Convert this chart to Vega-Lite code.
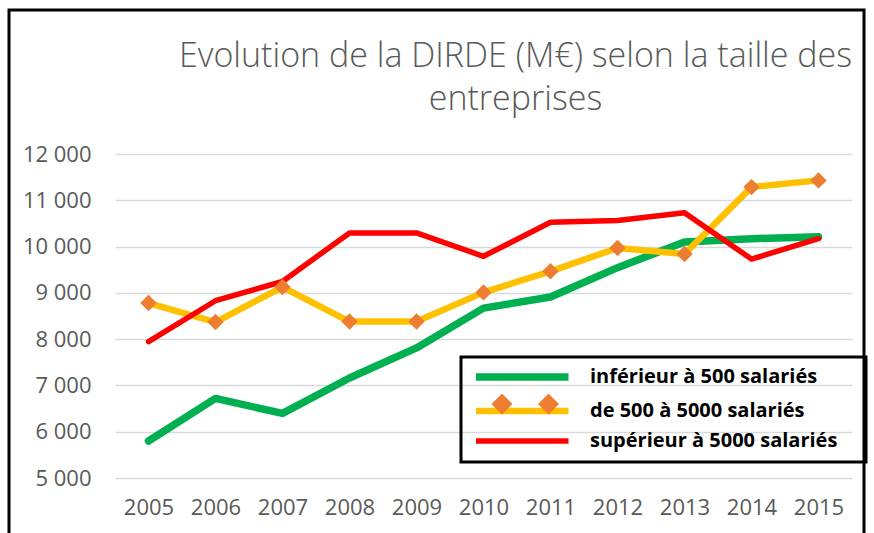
{
  "$schema": "https://vega.github.io/schema/vega-lite/v6.json",
  "width": 737,
  "height": 324,
  "autosize": {"type": "none"},
  "padding": {"left": 115, "top": 154, "right": 22, "bottom": 55},
  "background": "white",
  "config": {"view": {"stroke": null}, "legend": {"strokeWidth": 3}},
  "title": {
    "text": ["Evolution de la DIRDE (M€) selon la taille des", "entreprises"],
    "font": "Open Sans",
    "fontSize": 34,
    "fontWeight": 300,
    "color": "#595959",
    "anchor": "middle",
    "dx": 32,
    "lineHeight": 43,
    "offset": -108
  },
  "data": {
    "values": [
      {"year": "2005", "series": "inférieur à 500 salariés", "value": 5800},
      {"year": "2006", "series": "inférieur à 500 salariés", "value": 6720},
      {"year": "2007", "series": "inférieur à 500 salariés", "value": 6395},
      {"year": "2008", "series": "inférieur à 500 salariés", "value": 7160},
      {"year": "2009", "series": "inférieur à 500 salariés", "value": 7810},
      {"year": "2010", "series": "inférieur à 500 salariés", "value": 8670},
      {"year": "2011", "series": "inférieur à 500 salariés", "value": 8910},
      {"year": "2012", "series": "inférieur à 500 salariés", "value": 9545},
      {"year": "2013", "series": "inférieur à 500 salariés", "value": 10100},
      {"year": "2014", "series": "inférieur à 500 salariés", "value": 10170},
      {"year": "2015", "series": "inférieur à 500 salariés", "value": 10210},
      {"year": "2005", "series": "de 500 à 5000 salariés", "value": 8780},
      {"year": "2006", "series": "de 500 à 5000 salariés", "value": 8370},
      {"year": "2007", "series": "de 500 à 5000 salariés", "value": 9125},
      {"year": "2008", "series": "de 500 à 5000 salariés", "value": 8380},
      {"year": "2009", "series": "de 500 à 5000 salariés", "value": 8380},
      {"year": "2010", "series": "de 500 à 5000 salariés", "value": 9010},
      {"year": "2011", "series": "de 500 à 5000 salariés", "value": 9465},
      {"year": "2012", "series": "de 500 à 5000 salariés", "value": 9970},
      {"year": "2013", "series": "de 500 à 5000 salariés", "value": 9840},
      {"year": "2014", "series": "de 500 à 5000 salariés", "value": 11285},
      {"year": "2015", "series": "de 500 à 5000 salariés", "value": 11430},
      {"year": "2005", "series": "supérieur à 5000 salariés", "value": 7945},
      {"year": "2006", "series": "supérieur à 5000 salariés", "value": 8830},
      {"year": "2007", "series": "supérieur à 5000 salariés", "value": 9245},
      {"year": "2008", "series": "supérieur à 5000 salariés", "value": 10295},
      {"year": "2009", "series": "supérieur à 5000 salariés", "value": 10295},
      {"year": "2010", "series": "supérieur à 5000 salariés", "value": 9790},
      {"year": "2011", "series": "supérieur à 5000 salariés", "value": 10525},
      {"year": "2012", "series": "supérieur à 5000 salariés", "value": 10565},
      {"year": "2013", "series": "supérieur à 5000 salariés", "value": 10730},
      {"year": "2014", "series": "supérieur à 5000 salariés", "value": 9730},
      {"year": "2015", "series": "supérieur à 5000 salariés", "value": 10170}
    ]
  },
  "encoding": {
    "x": {
      "field": "year",
      "type": "ordinal",
      "scale": {"type": "point", "padding": 0.5},
      "axis": {
        "title": null,
        "labelAngle": 0,
        "ticks": false,
        "domain": false,
        "grid": false,
        "labelFont": "Open Sans",
        "labelFontSize": 22,
        "labelColor": "#595959",
        "labelPadding": 19
      }
    },
    "y": {
      "field": "value",
      "type": "quantitative",
      "scale": {"domain": [5000, 12000], "nice": false, "zero": false},
      "axis": {
        "title": null,
        "values": [5000, 6000, 7000, 8000, 9000, 10000, 11000, 12000],
        "ticks": false,
        "domain": false,
        "grid": true,
        "gridColor": "#D9D9D9",
        "gridWidth": 1.5,
        "labelFont": "Open Sans",
        "labelFontSize": 22,
        "labelColor": "#595959",
        "labelPadding": 24,
        "labelExpr": "replace(format(datum.value, ','), ',', ' ')"
      }
    }
  },
  "layer": [
    {
      "mark": {"type": "line", "strokeCap": "round", "strokeJoin": "round"},
      "encoding": {
        "color": {
          "field": "series",
          "type": "nominal",
          "sort": null,
          "scale": {
            "domain": ["inférieur à 500 salariés", "de 500 à 5000 salariés", "supérieur à 5000 salariés"],
            "range": ["#00B050", "#FFC000", "#FF0000"]
          },
          "legend": {
            "orient": "none",
            "legendX": 346,
            "legendY": 203,
            "title": "\u00a0",
            "titleOrient": "right",
            "titlePadding": 19,
            "titleFontSize": 12,
            "titleColor": "transparent",
            "symbolType": "M-1,0H17.5",
            "symbolSize": 100,
            "symbolStrokeWidth": 7,
            "labelFont": "Open Sans",
            "labelFontSize": 20,
            "labelFontWeight": "bold",
            "labelColor": "#000000",
            "labelOffset": 99,
            "labelLimit": 400,
            "rowPadding": 6,
            "padding": 10,
            "strokeColor": "#000000"
          }
        },
        "strokeWidth": {
          "field": "series",
          "type": "nominal",
          "scale": {
            "domain": ["inférieur à 500 salariés", "de 500 à 5000 salariés", "supérieur à 5000 salariés"],
            "range": [7.5, 5.5, 6]
          },
          "legend": null
        }
      }
    },
    {
      "transform": [{"filter": "datum.series === 'de 500 à 5000 salariés'"}],
      "mark": {"type": "point", "shape": "diamond", "filled": true, "color": "#ED7D31", "size": 270, "opacity": 1}
    },
    {
      "transform": [{"calculate": "'_' + datum.series", "as": "legendSeries"}],
      "mark": {"type": "point", "filled": true, "color": "#ED7D31", "opacity": 0},
      "encoding": {
        "shape": {
          "field": "legendSeries",
          "type": "nominal",
          "scale": {
            "domain": ["_inférieur à 500 salariés", "_de 500 à 5000 salariés", "_supérieur à 5000 salariés"],
            "range": ["M0,0", "M2.1,0L4.2,-2.1L6.3,0L4.2,2.1Z M11.4,0L13.5,-2.1L15.6,0L13.5,2.1Z", "M0,0"]
          },
          "legend": {
            "orient": "none",
            "legendX": 346,
            "legendY": 203,
            "title": null,
            "symbolSize": 100,
            "symbolFillColor": "#ED7D31",
            "symbolStrokeWidth": 0,
            "symbolOpacity": 1,
            "labelFont": "Open Sans",
            "labelFontSize": 20,
            "labelFontWeight": "bold",
            "labelExpr": "''",
            "labelOffset": 99,
            "rowPadding": 6,
            "padding": 10,
            "zindex": 1
          }
        }
      }
    },
    {
      "mark": {"type": "point", "opacity": 0},
      "encoding": {
        "fill": {
          "field": "value",
          "type": "quantitative",
          "scale": {"range": ["rgba(0,0,0,0)", "rgba(0,0,0,0)"]},
          "legend": {
            "orient": "none",
            "direction": "vertical",
            "legendX": -106,
            "legendY": -144,
            "title": null,
            "gradientLength": 545,
            "gradientThickness": 855,
            "gradientStrokeWidth": 0,
            "labelExpr": "''",
            "labelOffset": 0,
            "padding": 0,
            "strokeColor": "#000000"
          }
        }
      }
    }
  ]
}
